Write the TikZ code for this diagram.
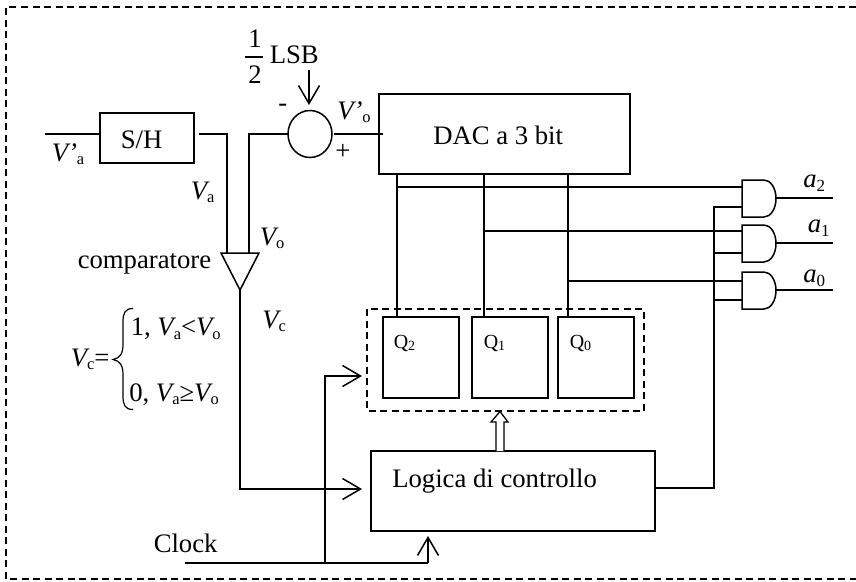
\documentclass[tikz,border=0pt]{standalone}
\usepackage{fontspec}
\setmainfont{Liberation Serif}
\usetikzlibrary{arrows.meta,shapes.geometric}
\newcommand{\Vs}[2]{{\itshape V#1}\raisebox{-3.5pt}{\fontsize{16.5}{16.5}\selectfont #2}}
\newcommand{\Qs}[1]{Q\raisebox{-2pt}{\fontsize{14}{14}\selectfont #1}}
\newcommand{\As}[1]{{\itshape a}\raisebox{-4pt}{\fontsize{17}{17}\selectfont #1}}
\begin{document}
\begin{tikzpicture}[x=1pt,y=-1pt,line width=1.5pt,line join=miter,
  txt/.style={inner sep=0pt,anchor=base west,font=\fontsize{26.7}{26.7}\selectfont},
  qtxt/.style={inner sep=0pt,anchor=base west,font=\fontsize{20}{20}\selectfont},
  blockbox/.style={draw,inner sep=0pt,outer sep=0pt,anchor=north west},
  open/.style={-{Straight Barb[length=18pt,width=21pt,line width=1.5pt]}},
  dash1/.style={dash pattern=on 7pt off 4.5pt,line width=1.3pt}]
\useasboundingbox (0,0) rectangle (856,581);
\fill[white] (0,0) rectangle (856,581);
\draw[dash1] (856,7) -- (6,7) -- (6,579) -- (856,579);

% blocks
\node[blockbox,minimum width=94pt,minimum height=50pt] (sh) at (100,113) {};
\node[blockbox,minimum width=251pt,minimum height=80pt] (dac) at (379,94) {};
\node[blockbox,minimum width=76pt,minimum height=81pt] (q2) at (383,317) {};
\node[blockbox,minimum width=76pt,minimum height=81pt] (q1) at (472,317) {};
\node[blockbox,minimum width=76pt,minimum height=81pt] (q0) at (558,317) {};
\node[blockbox,minimum width=284pt,minimum height=80pt] (logic) at (371,451) {};
\draw[dash1] (367,309) rectangle (644,411);
\node[draw,ellipse,inner sep=0pt,outer sep=0pt,minimum width=44pt,minimum height=47pt] (sum) at (310,134) {};
\path[draw] (221,253) coordinate (cl) -- (259,253) coordinate (cr) -- (240,290) coordinate (cb) -- cycle;

% AND gates
\foreach \n/\yt in {g2/180,g1/225,g0/272}{
  \draw (742,\yt) coordinate (\n tl) -- ++(22,0) arc[start angle=-90,end angle=90,x radius=12,y radius=18.5]
     -- ++(-22,0) coordinate (\n bl) -- cycle;
}
% text
\node[txt] (tsh) at (120,148) {S/H};
\node[txt] (tdac) at (432.5,144) {DAC a 3 bit};
\node[txt] (tlog) at (391.5,487) {Logica di controllo};
\node[txt] (tvpa) at (51,161) {\Vs{’}{a}};
\node[txt] (tva) at (190,199) {\Vs{}{a}};
\node[txt] (tvo) at (259,245) {\Vs{}{o}};
\node[txt] (tvpo) at (336.5,119) {\Vs{’}{o}};
\node[txt] (tvc) at (261.5,328) {\Vs{}{c}};
\node[txt] (tcomp) at (77,268) {comparatore};
\node[txt] (tminus) at (277.5,111) {-};
\node[txt] (tplus) at (334.5,159) {+};
\node[txt] (tone) at (247.5,47) {1};
\node[txt] (ttwo) at (247.5,83) {2};
\draw[line width=1.2pt] (245,57) coordinate (fa) -- (263,57) coordinate (fb);
\node[txt] (tlsb) at (269,63) {LSB};
\node[txt] (tclock) at (153,552) {Clock};
\node[txt] (tvceq) at (70,366) {\Vs{}{c}=};
\node[txt] (tcase1) at (130,335.5) {1, \Vs{}{a}<\Vs{}{o}};
\node[txt] (tcase0) at (128.5,401) {0, \Vs{}{a}≥\Vs{}{o}};
\draw[line width=1.2pt] (133,308.5) .. controls (125,308.5) and (123,313) .. (123,322)
  -- (123,344) .. controls (123,354) and (120,358) .. (113,359.5)
  .. controls (120,361) and (123,365) .. (123,375) -- (123,396)
  .. controls (123,405) and (125,409.5) .. (133,409.5);
\node[qtxt] (tq2) at (393,348) {\Qs{2}};
\node[qtxt] (tq1) at (483,348) {\Qs{1}};
\node[qtxt] (tq0) at (569,348) {\Qs{0}};
\node[txt] (ta2) at (802.5,187) {\As{2}};
\node[txt] (ta1) at (807,232.5) {\As{1}};
\node[txt] (ta0) at (802.5,282) {\As{0}};

% free ends
\coordinate (inL) at (45,134);
\coordinate (shOut) at (199,134);
\coordinate (sumOut) at (334,134);
\coordinate (dacIn) at (383,134);
\coordinate (lsbEnd) at (309,70);
\coordinate (clk) at (185,563);
\coordinate (o2) at (833,198);
\coordinate (o1) at (833,243);
\coordinate (o0) at (833,290);

% connectors
\draw (inL) -- (sh.west |- inL);
\draw (shOut) -- (227,134) -- (227,253);
\draw (sum.west) -- (249,134) -- (249,253);
\draw (sumOut) -- (dacIn);
\draw[open] (lsbEnd) -- (309,105);
\draw[open] (cb) -- (240,489) -- (362,489);
\draw (clk) -- (428,563);
\draw[open] (428,563) -- (428,536);
\draw[open] (325,563) -- (325,376) -- (362,376);
\draw (397,174) -- (397,317);
\draw (484,174) -- (484,317);
\draw (568,174) -- (568,317);
\draw (397,187) -- (742,187);
\draw (484,231) -- (742,231);
\draw (568,281) -- (742,281);
\draw (logic.east |- 0,488) -- (714,488) -- (714,207) -- (742,207);
\draw (714,253) -- (742,253);
\draw (714,300) -- (742,300);
\draw (776,198) -- (o2);
\draw (776,243) -- (o1);
\draw (776,290) -- (o0);
\draw[fill=white,line width=1.3pt] (496,451) -- (496,422) -- (491,422) -- (500,411.5) -- (508,422) -- (504,422) -- (504,451);
\end{tikzpicture}
\end{document}
